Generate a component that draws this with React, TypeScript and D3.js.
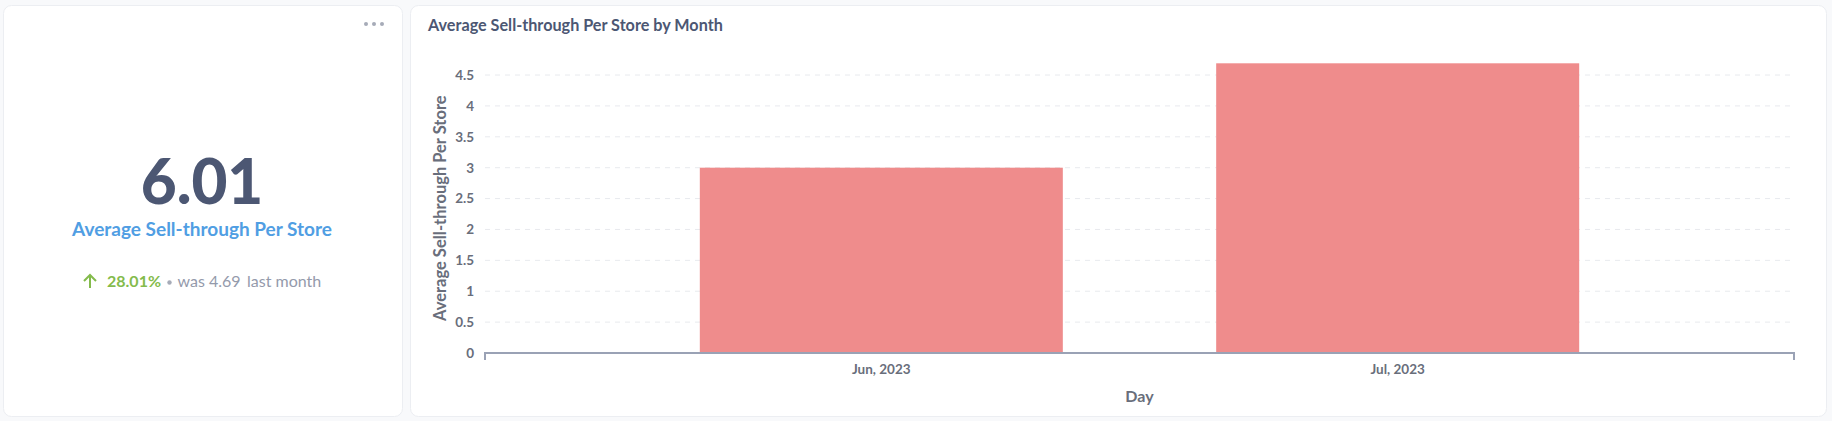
import React from "react";
import * as d3 from "d3";

const categories = ["Jun, 2023", "Jul, 2023"];
const values = [3.0, 4.69];
const yTicks = [0, 0.5, 1, 1.5, 2, 2.5, 3, 3.5, 4, 4.5];
const scalarValue = "6.01";
const scalarLabel = "Average Sell-through Per Store";
const changePct = "28.01%";
const previousValue = "4.69";

const W = 1832;
const H = 421;
const FONT = "Lato, 'Noto Sans', sans-serif";

export default function App() {
  const plotLeft = 485;
  const plotRight = 1794;
  const plotBottom = 353;
  const plotTop = 63.3;

  const x = d3
    .scaleBand<string>()
    .domain(categories)
    .range([plotLeft, plotRight])
    .paddingInner(0.297)
    .paddingOuter(0.416);
  const y = d3
    .scaleLinear()
    .domain([0, d3.max(values) as number])
    .range([plotBottom, plotTop]);

  const textDark = "#4c5773";
  const tickColor = "#696e7b";
  const axisColor = "#9aa2b5";

  return (
    <svg
      width={W}
      height={H}
      style={{ position: "absolute", left: 0, top: 0, fontFamily: FONT }}
    >
      <rect x={0} y={0} width={W} height={H} fill="#f8f9fb" />
      {/* left card */}
      <rect x={3.5} y={5.5} width={399} height={411} rx={8} fill="#fff" stroke="#eceef2" />
      {/* right card */}
      <rect x={410.5} y={5.5} width={1416} height={411} rx={8} fill="#fff" stroke="#eceef2" />

      {/* dots menu */}
      {[366, 374, 382].map((cx) => (
        <circle key={cx} cx={cx} cy={24} r={2} fill="#a6abb8" />
      ))}

      {/* scalar */}
      <text x={202} y={204} textAnchor="middle" fontSize={62} fontWeight={900} fill={textDark}>
        {scalarValue}
      </text>
      <text x={202} y={236} textAnchor="middle" fontSize={19} fontWeight={700} fill="#509ee3">
        {scalarLabel}
      </text>
      {/* comparison */}
      <g>
        <path
          d="M90 288 L90 275 M84 281 L90 275 L96 281"
          stroke="#84bb4c"
          strokeWidth={2}
          fill="none"
        />
        <text x={107} y={287} fontSize={16} fontWeight={700} fill="#84bb4c">
          {changePct}
        </text>
        <circle cx={169.5} cy={282.5} r={2.2} fill="#a6abb8" />
        <text x={177.5} y={287} fontSize={16} fontWeight={400} fill="#949aab">
          {`was ${previousValue}`}
        </text>
        <text x={247} y={287} fontSize={16} fontWeight={400} fill="#949aab">
          last month
        </text>
      </g>

      {/* chart title */}
      <text x={428} y={31} fontSize={16.2} fontWeight={700} fill={textDark}>
        Average Sell-through Per Store by Month
      </text>

      {/* gridlines */}
      {yTicks
        .filter((t) => t > 0)
        .map((t) => (
          <line
            key={t}
            x1={plotLeft}
            x2={plotRight - 3}
            y1={y(t)}
            y2={y(t)}
            stroke="#e8eaee"
            strokeDasharray="5,5"
          />
        ))}

      {/* y tick labels */}
      {yTicks.map((t) => (
        <text
          key={t}
          x={474}
          y={y(t)}
          dy="0.36em"
          textAnchor="end"
          fontSize={13.5}
          fontWeight={700}
          fill={tickColor}
        >
          {String(t)}
        </text>
      ))}

      {/* bars */}
      {categories.map((c, i) => (
        <rect
          key={c}
          x={x(c)}
          y={y(values[i])}
          width={x.bandwidth()}
          height={y(0) - y(values[i])}
          fill="#ef8c8c"
        />
      ))}

      {/* x axis line */}
      <path
        d={`M${plotLeft} ${plotBottom + 7} V${plotBottom} H${plotRight} V${plotBottom + 7}`}
        stroke={axisColor}
        strokeWidth={2}
        fill="none"
      />

      {/* x tick labels */}
      {categories.map((c) => (
        <text
          key={c}
          x={(x(c) as number) + x.bandwidth() / 2}
          y={374}
          textAnchor="middle"
          fontSize={13.5}
          fontWeight={700}
          fill={tickColor}
        >
          {c}
        </text>
      ))}

      {/* axis titles */}
      <text
        x={(plotLeft + plotRight) / 2}
        y={402}
        textAnchor="middle"
        fontSize={16}
        fontWeight={700}
        fill={tickColor}
      >
        Day
      </text>
      <text
        transform={`translate(446, ${(plotTop + plotBottom) / 2}) rotate(-90)`}
        textAnchor="middle"
        fontSize={16.5}
        fontWeight={700}
        fill={tickColor}
      >
        Average Sell-through Per Store
      </text>
    </svg>
  );
}
